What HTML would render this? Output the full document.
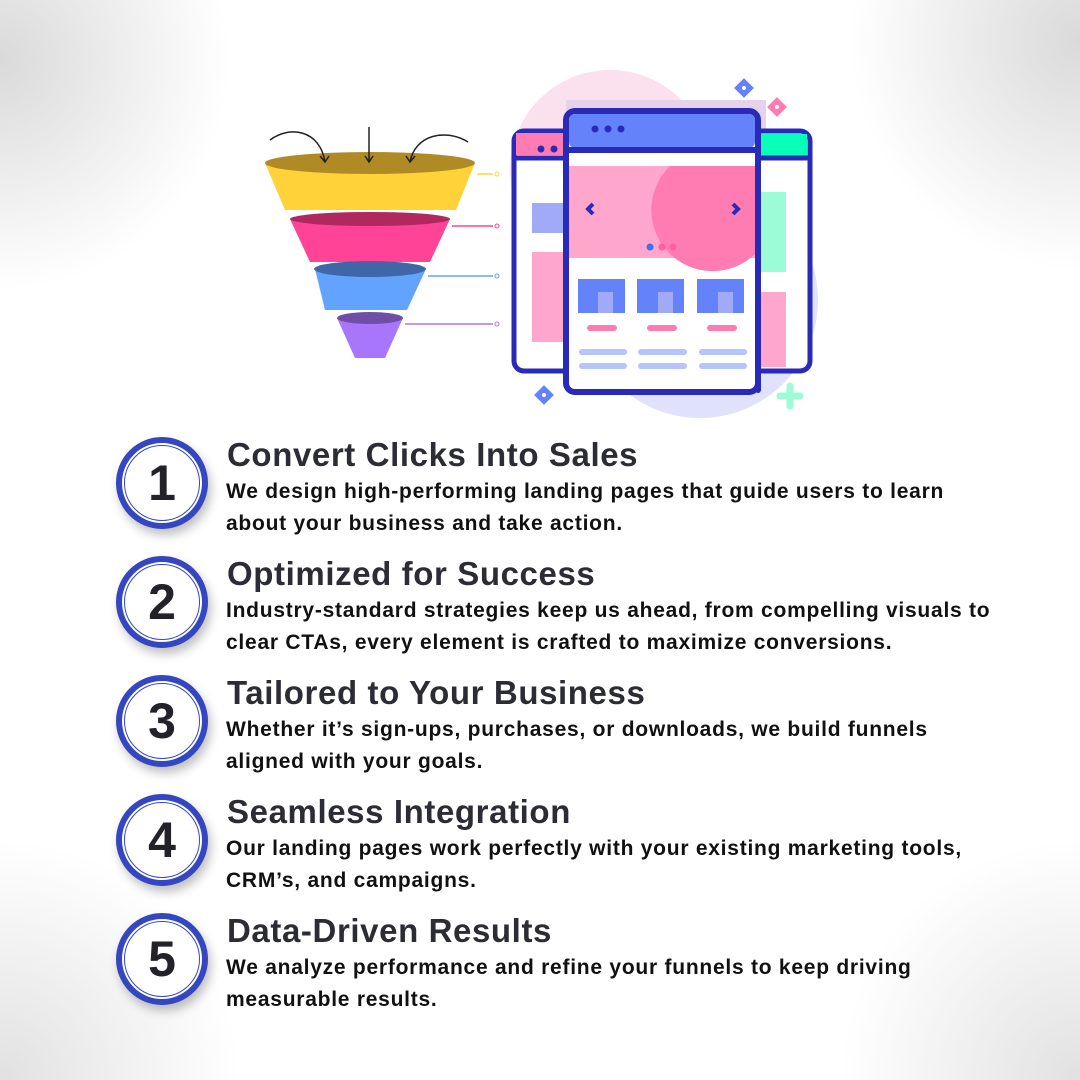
<!DOCTYPE html>
<html><head><meta charset="utf-8"><style>
html,body{margin:0;padding:0}
body{width:1080px;height:1080px;position:relative;overflow:hidden;background:#fff;font-family:"Liberation Sans",sans-serif;}
.bg{position:absolute;inset:0;background:
radial-gradient(circle at 0 60px,rgba(205,205,205,.75),rgba(255,255,255,0) 230px),
radial-gradient(circle at 1080px 40px,rgba(205,205,205,.75),rgba(255,255,255,0) 230px),
radial-gradient(circle at 0 1080px,rgba(215,215,215,.75),rgba(255,255,255,0) 240px),
radial-gradient(circle at 1080px 1080px,rgba(215,215,215,.75),rgba(255,255,255,0) 240px);}
.c{position:absolute;width:80px;height:80px;border-radius:50%;border:6px solid #3447c0;background:#fff;box-shadow:3px 6px 10px rgba(0,0,0,.25);}
.c::after{content:"";position:absolute;inset:2px;border-radius:50%;border:1.5px solid #3447c0;}
.c span{position:absolute;left:0;right:0;top:14px;text-align:center;font-weight:bold;font-size:50px;color:#222228;line-height:52px}
.h{position:absolute;left:227px;font-size:33px;font-weight:bold;color:#2c2c35;white-space:nowrap;letter-spacing:0.6px}
.p{position:absolute;left:226px;font-size:21px;font-weight:bold;color:#111;line-height:32px;white-space:nowrap;letter-spacing:0.75px}
</style></head><body>
<div class="bg"></div>
<svg style="position:absolute;left:0;top:0" width="1080" height="430" viewBox="0 0 1080 430">
<circle cx="610" cy="170" r="100" fill="#fbe0ee"/>
<circle cx="700" cy="300" r="118" fill="#dfe2fa"/>
<rect x="566" y="100" width="200" height="40" fill="#e6d2ea"/>
<rect x="514" y="131" width="60" height="240" rx="10" fill="#fff" stroke="#2a2ab8" stroke-width="5"/>
<rect x="516" y="133" width="50" height="22" fill="#ff7cb3"/>
<line x1="514" y1="158" x2="570" y2="158" stroke="#2a2ab8" stroke-width="5"/>
<circle cx="541" cy="149" r="3.5" fill="#2a2ab8"/><circle cx="554" cy="149" r="3.5" fill="#2a2ab8"/>
<rect x="532" y="203" width="40" height="30" fill="#a0aaf6"/>
<rect x="532" y="252" width="40" height="90" fill="#ffa6cc"/>
<rect x="752" y="131" width="58" height="240" rx="10" fill="#fff" stroke="#2a2ab8" stroke-width="5"/>
<rect x="756" y="134" width="51" height="22" fill="#08ffb8"/>
<line x1="752" y1="158" x2="810" y2="158" stroke="#2a2ab8" stroke-width="5"/>
<rect x="756" y="192" width="30" height="80" fill="#9dfcd8"/>
<rect x="756" y="292" width="30" height="75" fill="#ffa6cc"/>
<rect x="566" y="111" width="192" height="281" rx="9" fill="#fff" stroke="#2a2ab8" stroke-width="6"/>
<rect x="569" y="114" width="186" height="34" rx="6" fill="#6483fb"/>
<line x1="566" y1="150" x2="758" y2="150" stroke="#2a2ab8" stroke-width="6"/>
<circle cx="595" cy="129" r="3.5" fill="#2a2ab8"/><circle cx="608" cy="129" r="3.5" fill="#2a2ab8"/><circle cx="621" cy="129" r="3.5" fill="#2a2ab8"/>
<rect x="569" y="166" width="186" height="92" fill="#ffa6cc"/>
<path d="M755 166 H670 A58 58 0 0 0 755 254 Z" fill="#ff7cb3"/>
<path d="M593 204 l-5 5 l5 5" stroke="#2a2ab8" stroke-width="4" fill="none"/>
<path d="M733 204 l5 5 l-5 5" stroke="#2a2ab8" stroke-width="4" fill="none"/>
<circle cx="650" cy="247" r="3.5" fill="#3f6ff6"/><circle cx="662" cy="247" r="3.5" fill="#ff5fa0"/><circle cx="673" cy="247" r="3.5" fill="#ff5fa0"/>
<line x1="758" y1="186" x2="758" y2="390" stroke="#2a2ab8" stroke-width="6" stroke-linecap="round"/>
<g fill="#6483fb"><rect x="578" y="279" width="47" height="34"/><rect x="637" y="279" width="47" height="34"/><rect x="697" y="279" width="47" height="34"/></g>
<g fill="#a0aaf6"><rect x="598" y="292" width="15" height="21"/><rect x="658" y="292" width="15" height="21"/><rect x="718" y="292" width="15" height="21"/></g>
<g stroke="#ff7cb3" stroke-width="6" stroke-linecap="round"><line x1="590" y1="328" x2="614" y2="328"/><line x1="650" y1="328" x2="674" y2="328"/><line x1="710" y1="328" x2="734" y2="328"/></g>
<g stroke="#b7c3fb" stroke-width="6" stroke-linecap="round"><line x1="582" y1="352" x2="624" y2="352"/><line x1="641" y1="352" x2="684" y2="352"/><line x1="702" y1="352" x2="744" y2="352"/><line x1="582" y1="366" x2="624" y2="366"/><line x1="641" y1="366" x2="684" y2="366"/><line x1="702" y1="366" x2="744" y2="366"/></g>
<rect x="737" y="81" width="14" height="14" transform="rotate(45 744 88)" fill="#6483fb"/><circle cx="744" cy="88" r="2" fill="#fff"/>
<rect x="770" y="100" width="14" height="14" transform="rotate(45 777 107)" fill="#ff7cb3"/><circle cx="777" cy="107" r="2" fill="#fff"/>
<rect x="537" y="388" width="14" height="14" transform="rotate(45 544 395)" fill="#6483fb"/><circle cx="544" cy="395" r="2" fill="#fff"/>
<path d="M790 386 v20 M780 396 h20" stroke="#9dfcd8" stroke-width="7" stroke-linecap="round"/>
<polygon points="265,163 475,163 456,210 285,210" fill="#ffd23a"/>
<ellipse cx="370" cy="163" rx="105" ry="11" fill="#b08a25"/>
<polygon points="290,219 450,219 430,262 310,262" fill="#ff4497"/>
<ellipse cx="370" cy="219" rx="80" ry="7" fill="#b0285e"/>
<polygon points="315,269 426,269 407,310 325,310" fill="#62a3ff"/>
<ellipse cx="370" cy="269" rx="56" ry="8" fill="#3f67a8"/>
<polygon points="337,318 403,318 385,358 355,358" fill="#a876fb"/>
<ellipse cx="370" cy="318" rx="33" ry="6" fill="#704ea8"/>
<g fill="none" stroke="#222" stroke-width="1.5">
<path d="M270 140 C290 125 320 130 325 162"/><path d="M369 127 V162"/><path d="M468 142 C445 128 415 135 410 162"/>
<path d="M320 156 l5 6 l4 -6"/><path d="M365 156 l4 6 l4 -6"/><path d="M406 156 l4 6 l5 -6"/></g>
<line x1="477" y1="174" x2="493" y2="174" stroke="#ffd23a" stroke-width="1.5"/><circle cx="497" cy="174" r="2" fill="none" stroke="#ffd23a"/>
<line x1="452" y1="226" x2="493" y2="226" stroke="#ff4497" stroke-width="1.5"/><circle cx="497" cy="226" r="2" fill="none" stroke="#ff4497"/>
<line x1="428" y1="276" x2="493" y2="276" stroke="#62a3ff" stroke-width="1.5"/><circle cx="497" cy="276" r="2" fill="none" stroke="#62a3ff"/>
<line x1="405" y1="324" x2="493" y2="324" stroke="#a876fb" stroke-width="1.5"/><circle cx="497" cy="324" r="2" fill="none" stroke="#a876fb"/>
</svg>

<div class="c" style="left:116px;top:437px"><span>1</span></div>
<div class="h" style="top:436px">Convert Clicks Into Sales</div>
<div class="p" style="top:476px">We design high-performing landing pages that guide users to learn<br>about your business and take action.</div>

<div class="c" style="left:116px;top:556px"><span>2</span></div>
<div class="h" style="top:555px">Optimized for Success</div>
<div class="p" style="top:595px">Industry-standard strategies keep us ahead, from compelling visuals to<br>clear CTAs, every element is crafted to maximize conversions.</div>

<div class="c" style="left:116px;top:675px"><span>3</span></div>
<div class="h" style="top:674px">Tailored to Your Business</div>
<div class="p" style="top:714px">Whether it’s sign-ups, purchases, or downloads, we build funnels<br>aligned with your goals.</div>

<div class="c" style="left:116px;top:794px"><span>4</span></div>
<div class="h" style="top:793px">Seamless Integration</div>
<div class="p" style="top:833px">Our landing pages work perfectly with your existing marketing tools,<br>CRM’s, and campaigns.</div>

<div class="c" style="left:116px;top:913px"><span>5</span></div>
<div class="h" style="top:912px">Data-Driven Results</div>
<div class="p" style="top:952px">We analyze performance and refine your funnels to keep driving<br>measurable results.</div>
</body></html>
